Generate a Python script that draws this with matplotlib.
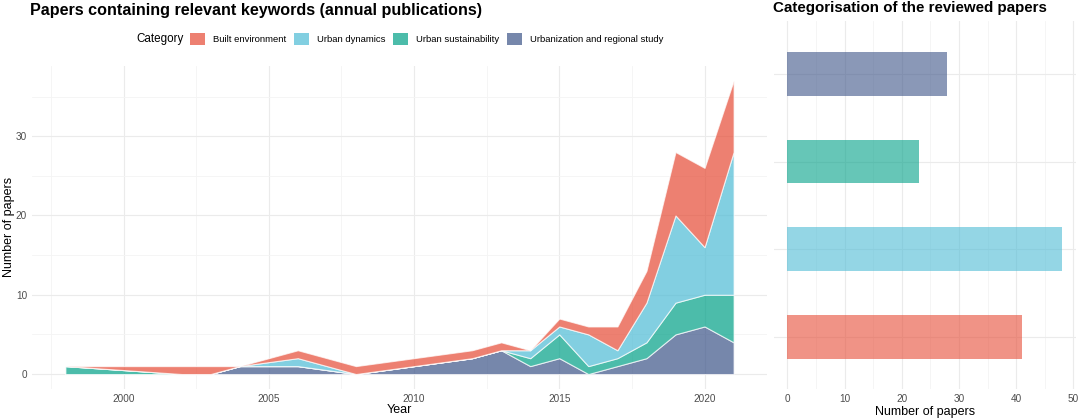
import matplotlib
matplotlib.use("Agg")
import matplotlib.pyplot as plt
from matplotlib.patches import Patch
from matplotlib.ticker import MultipleLocator

plt.rcParams['font.family'] = ['Liberation Sans', 'DejaVu Sans']

# annual publications per category (years where the areas have vertices)
years = [1998, 2002, 2003, 2004, 2006, 2008, 2012, 2013, 2014, 2015,
         2016, 2017, 2018, 2019, 2020, 2021]
urbanization = [0, 0, 0, 1, 1, 0, 2, 3, 1, 2, 0, 1, 2, 5, 6, 4]
sustainability = [1, 0, 0, 0, 0, 0, 0, 0, 1, 3, 1, 1, 2, 4, 4, 6]
dynamics = [0, 0, 0, 0, 1, 0, 0, 0, 1, 1, 4, 1, 5, 11, 6, 18]
built = [0, 1, 1, 0, 1, 1, 1, 1, 0, 1, 1, 3, 4, 8, 10, 9]

# totals per category for the bar chart
categories = ['Built environment', 'Urban dynamics', 'Urban sustainability',
              'Urbanization and regional study']
totals = [41, 48, 23, 28]

colors = {'Built environment': '#E64B35', 'Urban dynamics': '#4DBBD5',
          'Urban sustainability': '#00A087',
          'Urbanization and regional study': '#3C5488'}

W, H = 1080, 419
fig = plt.figure(figsize=(W / 100, H / 100), dpi=100)

def box(l, t, r, b):
    return [l / W, 1 - b / H, (r - l) / W, (b - t) / H]

tick_col = '#4D4D4D'

def style(ax):
    for s in ax.spines.values():
        s.set_visible(False)
    ax.set_axisbelow(True)
    ax.grid(which='major', color='#EBEBEB', lw=0.8)
    ax.grid(which='minor', color='#F4F4F4', lw=0.6)
    ax.tick_params(which='both', length=0, labelsize=7.2, labelcolor=tick_col)
    ax.tick_params(axis='x', pad=3.5)
    ax.tick_params(axis='y', pad=3.5)

# left: stacked areas
ax1 = fig.add_axes(box(32, 66, 767, 388.7))
style(ax1)
stack_order = ['Urbanization and regional study', 'Urban sustainability',
               'Urban dynamics', 'Built environment']
ax1.stackplot(years, urbanization, sustainability, dynamics, built,
              colors=[colors[c] for c in stack_order], alpha=0.7,
              edgecolor='white', linewidth=0.8)
ax1.set_xlim(1996.85, 2022.15)
ax1.set_ylim(-1.85, 38.85)
ax1.xaxis.set_major_locator(MultipleLocator(5))
ax1.xaxis.set_minor_locator(MultipleLocator(2.5))
ax1.yaxis.set_major_locator(MultipleLocator(10))
ax1.yaxis.set_minor_locator(MultipleLocator(5))
ax1.set_xlabel('Year', fontsize=9)
ax1.xaxis.set_label_coords(0.5, -0.048)
ax1.set_ylabel('Number of papers', fontsize=9)
ax1.yaxis.set_label_coords(-0.023, 0.5)

fig.text(30 / W, 1 - 10 / H,
         'Papers containing relevant keywords (annual publications)',
         fontsize=11.6, fontweight='bold', va='center', ha='left')

# legend
fig.text(136 / W, 1 - 39 / H, 'Category', fontsize=8.4, va='center', ha='left')
handles = [Patch(facecolor=colors[c], alpha=0.7, edgecolor='none', label=c)
           for c in categories]
fig.legend(handles=handles, ncol=4, loc='center left',
           bbox_to_anchor=(190 / W, 1 - 39 / H), frameon=False,
           fontsize=6.8, handlelength=1.6, handleheight=1.7,
           handletextpad=0.85, columnspacing=0.8, borderpad=0,
           borderaxespad=0)

# right: horizontal bars
ax2 = fig.add_axes(box(773.6, 21.4, 1075.6, 389.3))
style(ax2)
ypos = range(1, len(categories) + 1)
ax2.barh(list(ypos), totals, height=0.5,
         color=[colors[c] for c in categories], alpha=0.6)
ax2.set_xlim(-2.4, 50.4)
ax2.set_ylim(0.4, 4.6)
ax2.xaxis.set_major_locator(MultipleLocator(10))
ax2.xaxis.set_minor_locator(MultipleLocator(5))
ax2.set_yticks(list(ypos))
ax2.set_yticklabels([])
ax2.set_xlabel('Number of papers', fontsize=9)
ax2.xaxis.set_label_coords(0.5, -0.045)
fig.text(773 / W, 1 - 8 / H, 'Categorisation of the reviewed papers',
         fontsize=10.9, fontweight='bold', va='center', ha='left')

fig.savefig('out.png', dpi=100)
